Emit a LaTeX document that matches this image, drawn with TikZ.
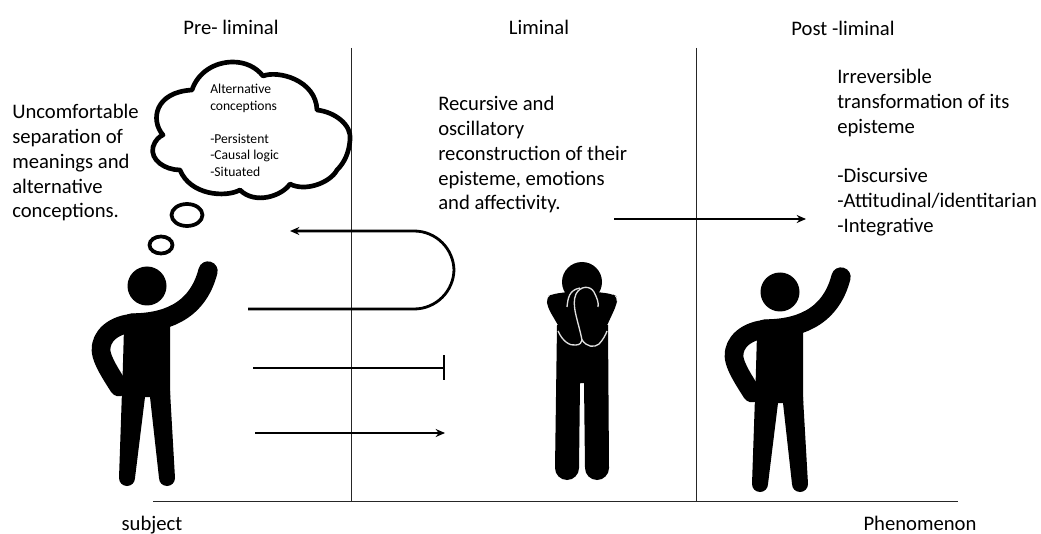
\documentclass[tikz,border=0pt]{standalone}
\usepackage{fontspec}
\setmainfont{Carlito}
\usetikzlibrary{arrows.meta}
\tikzset{
  x=0.75pt,y=-0.75pt,
  axisline/.style={draw=black!85,line width=0.75pt},
  flowline/.style={draw=black,line width=2.1pt},
  headtip/.style={-{Stealth[length=7pt,width=6pt]}},
  bigtext/.style={inner sep=0pt,align=left,anchor=north west,font=\fontsize{15.5}{18.6}\selectfont},
  heading/.style={inner sep=0pt,font=\fontsize{15.5}{18}\selectfont},
  smalltext/.style={inner sep=0pt,align=left,anchor=north west,font=\fontsize{10.2}{12.4}\selectfont},
  limb/.style={draw=black,line cap=round,line join=round},
  pics/waver/.style={code={
    \fill[black] (0,0) circle[radius=19.5];
    % torso
    \fill[black] (-23,42) -- (23,30) -- (23,111) -- (-25,111) -- cycle;
    % raised arm and shoulders
    \draw[limb,line width=14.5pt] (-15,37) .. controls (15,37) and (50,28) .. (61,-15);
    % bent arm
    \draw[limb,line width=14pt] (-12,37) .. controls (-33,38) and (-47,50) .. (-46,65) .. controls (-45,75) and (-35,90) .. (-28,101);
    % legs
    \fill[black] (-25,105) -- (-2,105) -- (-2,111) -- (-12,192)
       arc[start angle=0,end angle=180,radius=8] -- cycle;
    \fill[black] (23,105) -- (3,105) -- (3,111) -- (12,192)
       arc[start angle=180,end angle=0,radius=8] -- cycle;
  }}
}
\begin{document}
\begin{tikzpicture}
\useasboundingbox[fill=white] (0,0) rectangle (1041,534);

% axes
\coordinate (v1t) at (351,48); \coordinate (v1b) at (351,501);
\coordinate (v2t) at (696,48); \coordinate (v2b) at (696,501);
\coordinate (hl) at (153,501); \coordinate (hr) at (958,501);
\draw[axisline] (v1t) -- (v1b);
\draw[axisline] (v2t) -- (v2b);
\draw[axisline] (hl) -- (hr);

% headings
\node[heading] (pre) at (231,27) {Pre- liminal};
\node[heading] (lim) at (539,27) {Liminal};
\node[heading] (post) at (843,28) {Post -liminal};
\node[heading] (subj) at (152,525) {subject};
\node[heading] (phen) at (920,523) {Phenomenon};

% texts
\node[bigtext] (t1) at (12,104) {Uncomfortable\\separation of\\meanings and\\alternative\\conceptions.};
\node[bigtext] (t2) at (438,96) {Recursive and\\oscillatory\\reconstruction of their\\episteme, emotions\\and affectivity.};
\node[bigtext] (t3) at (837,69) {Irreversible\\transformation of its\\episteme\\[18.6pt]-Discursive\\-Attitudinal/identitarian\\-Integrative};

% thought cloud
\draw[black,line width=3.5pt,fill=white,line join=round]
  (192,90) .. controls (198,72) and (215,62) .. (233,62)
  .. controls (245,62) and (256,67) .. (263,76)
  .. controls (278,70) and (316,80) .. (317,110)
  .. controls (335,112) and (352,125) .. (350,140)
  .. controls (349,152) and (345,162) .. (337,170)
  .. controls (330,183) and (305,192) .. (290,184)
  .. controls (282,196) and (255,205) .. (240,190)
  .. controls (225,198) and (190,195) .. (180,170)
  .. controls (165,170) and (150,160) .. (153,147)
  .. controls (155,140) and (160,136) .. (163,135)
  .. controls (150,120) and (155,92) .. (192,90) -- cycle;
\node[smalltext] (c1) at (210,84) {Alternative\\conceptions\\[12.4pt]-Persistent\\-Causal logic\\-Situated};
\draw[black,line width=2.8pt] (187,215) ellipse[x radius=15.5,y radius=11] coordinate (b1);
\draw[black,line width=2.8pt] (161,245) ellipse[x radius=11.5,y radius=8.5] coordinate (b2);

% people
\pic at (147,286) {waver};
\pic at (780,292) {waver};

% middle person
\fill[black] (557,325) -- (608,325) -- (609,468)
  arc[start angle=0,end angle=180,radius=12] -- (584,383) -- (580,383) -- (579,468)
  arc[start angle=0,end angle=180,radius=12] -- cycle;
\fill[black] (582,282) circle[radius=20];
\fill[black,rounded corners=4pt] (546,297) -- (553,294) -- (582,290) -- (612,294) -- (618,297)
  -- (616,306) -- (604,332) -- (590,347) -- (582,342) -- (572,347) -- (562,332) -- (548,308) -- cycle;
\draw[white!75!gray,line width=1pt]
  (558,331) .. controls (563,342) and (570,346) .. (576,345)
  .. controls (580,345) and (582,342) .. (582,340)
  .. controls (587,347) and (594,348) .. (599,344)
  .. controls (603,340) and (606,334) .. (607,331);
\draw[white!75!gray,line width=1pt]
  (582,340) .. controls (578,320) and (571,305) .. (576,294)
  .. controls (580,286) and (590,285) .. (594,292)
  .. controls (597,298) and (599,303) .. (598,307);
\draw[white!75!gray,line width=1pt]
  (567,307) .. controls (568,298) and (569,290) .. (580,288);

% loop arrow
\coordinate (la) at (248,309); \coordinate (lb) at (290,231);
\draw[flowline,headtip,rounded corners=30pt] (la) -- (454,309) -- (454,231) -- (lb);
% stop line
\coordinate (sa) at (253,368); \coordinate (sb) at (444,368);
\coordinate (st) at (444,355); \coordinate (sd) at (444,380);
\draw[flowline] (sa) -- (sb);
\draw[flowline] (st) -- (sd);
% straight arrow
\coordinate (aa) at (255,433); \coordinate (ab) at (445,433);
\draw[flowline,headtip] (aa) -- (ab);
% upper right arrow
\coordinate (ra) at (614,219); \coordinate (rb) at (806,219);
\draw[flowline,headtip] (ra) -- (rb);
\end{tikzpicture}
\end{document}
